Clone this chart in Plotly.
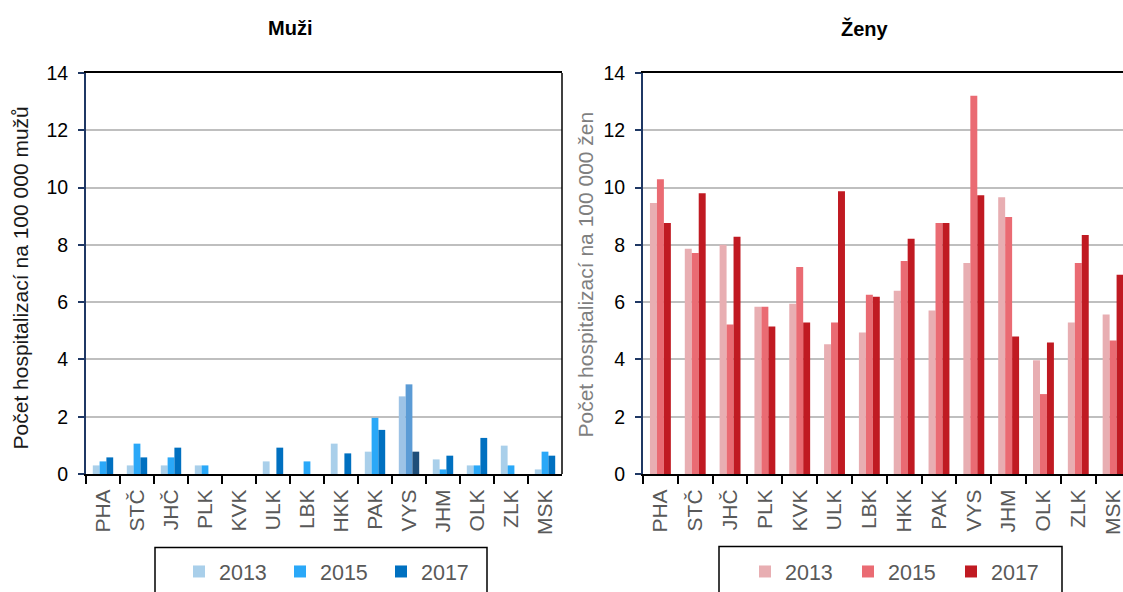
import plotly.graph_objects as go

regions = ["PHA", "STČ", "JHČ", "PLK", "KVK", "ULK", "LBK", "HKK", "PAK", "VYS", "JHM", "OLK", "ZLK", "MSK"]
years = ["2013", "2015", "2017"]

men_2013 = [0.30, 0.30, 0.30, 0.30, 0, 0.44, 0, 1.06, 0.78, 2.71, 0.51, 0.30, 0.99, 0.16]
men_2015 = [0.44, 1.06, 0.58, 0.30, 0, 0, 0.44, 0, 1.96, 3.13, 0.16, 0.30, 0.30, 0.78]
men_2017 = [0.58, 0.58, 0.92, 0, 0, 0.92, 0, 0.72, 1.54, 0.78, 0.64, 1.26, 0, 0.64]

women_2013 = [9.46, 7.86, 8.00, 5.84, 5.94, 4.53, 4.94, 6.40, 5.71, 7.37, 9.66, 3.97, 5.29, 5.57]
women_2015 = [10.29, 7.72, 5.22, 5.84, 7.23, 5.29, 6.26, 7.44, 8.76, 13.21, 8.97, 2.79, 7.37, 4.66]
women_2017 = [8.76, 9.80, 8.28, 5.15, 5.29, 9.87, 6.19, 8.21, 8.76, 9.73, 4.80, 4.59, 8.34, 6.96]

men_colors = ["#A9CFEA", "#2AA8F8", "#0070C0"]
men_vys_colors = ["#9DC3E6", "#5B9BD5", "#1F4E79"]
women_colors = ["#E8AEB2", "#EA6B73", "#C01A22"]

W, H = 1123, 592
T, B = 73, 115
plot_h = H - T - B

def px(x):
    return x / W

def py(y):
    return (H - B - y) / plot_h

FONT = "Arial, Liberation Sans, sans-serif"

fig = go.Figure()

men_series = [men_2013, men_2015, men_2017]
for i, (yr, vals) in enumerate(zip(years, men_series)):
    cols = [men_vys_colors[i] if r == "VYS" else men_colors[i] for r in regions]
    fig.add_trace(go.Bar(x=regions, y=vals, name=yr, marker=dict(color=cols, line=dict(width=0)),
                         xaxis="x", yaxis="y", legend="legend", showlegend=True))

women_series = [women_2013, women_2015, women_2017]
for i, (yr, vals) in enumerate(zip(years, women_series)):
    fig.add_trace(go.Bar(x=regions, y=vals, name=yr, marker=dict(color=women_colors[i], line=dict(width=0)),
                         xaxis="x2", yaxis="y2", legend="legend2", showlegend=True))

left_dom = [px(86), px(562)]
right_dom = [px(643), 1.0]
cat_w_right = (1095.7 - 643) / 13
right_end = -0.5 + (W - 643) / cat_w_right

xcommon = dict(type="category", tickson="boundaries", ticks="outside", ticklen=8, tickwidth=1.5,
               tickcolor="black", showline=True, linecolor="black", linewidth=2, mirror=True,
               tickangle=-90, tickfont=dict(family=FONT, size=21, color="#595959"),
               ticklabelstandoff=5,
               showgrid=False, categoryorder="array", categoryarray=regions)
ycommon = dict(range=[0, 14], dtick=2, showgrid=True, gridcolor="#BFBFBF", gridwidth=1.5,
               showline=True, linecolor="#1F3864", linewidth=2, ticks="outside", ticklen=6,
               tickcolor="#1F3864", tickwidth=1.5, zeroline=False, ticklabelstandoff=6,
               tickfont=dict(family=FONT, size=19.5, color="black"))

legend_common = dict(orientation="h", xanchor="left", yanchor="top",
                     font=dict(family=FONT, size=21.5, color="#595959"), bgcolor="rgba(0,0,0,0)",
                     borderwidth=0, entrywidthmode="pixels", traceorder="normal")

fig.update_layout(
    width=W, height=H,
    margin=dict(l=0, r=0, t=T, b=B),
    plot_bgcolor="white", paper_bgcolor="white",
    barmode="group", bargap=0.4, bargroupgap=0,
    font=dict(family=FONT),
    xaxis=dict(domain=left_dom, anchor="y", range=[-0.5, 13.5], **xcommon),
    yaxis=dict(domain=[0, 1], anchor="x", **ycommon),
    xaxis2=dict(domain=right_dom, anchor="y2", range=[-0.5, right_end], **xcommon),
    yaxis2=dict(domain=[0, 1], anchor="x2", **ycommon),
    legend=dict(x=px(179), y=py(555), entrywidth=56, **legend_common),
    legend2=dict(x=px(745), y=py(555), entrywidth=58, **legend_common),
    showlegend=True,
)

shapes = [
    dict(type="line", xref="x domain", yref="y domain", x0=1, x1=1, y0=0, y1=1,
         line=dict(color="black", width=1.5)),
    dict(type="rect", xref="paper", yref="paper", x0=px(155), x1=px(487), y0=py(551), y1=py(620),
         line=dict(color="black", width=1.5), fillcolor="rgba(0,0,0,0)"),
    dict(type="rect", xref="paper", yref="paper", x0=px(719), x1=px(1062), y0=py(550), y1=py(620),
         line=dict(color="black", width=1.5), fillcolor="rgba(0,0,0,0)"),
]
fig.update_layout(shapes=shapes)

annotations = [
    dict(text="<b>Muži</b>", x=px(290), y=py(28), xref="paper", yref="paper", showarrow=False,
         font=dict(family=FONT, size=20, color="black"), xanchor="center", yanchor="middle"),
    dict(text="<b>Ženy</b>", x=px(865), y=py(28), xref="paper", yref="paper", showarrow=False,
         font=dict(family=FONT, size=20, color="black"), xanchor="center", yanchor="middle"),
    dict(text="Počet hospitalizací na 100 000 mužů", x=px(20), y=py(280), xref="paper", yref="paper",
         showarrow=False, textangle=-90, font=dict(family=FONT, size=21, color="#1A1A1A"),
         xanchor="center", yanchor="middle"),
    dict(text="Počet hospitalizací na 100 000 žen", x=px(585), y=py(276), xref="paper", yref="paper",
         showarrow=False, textangle=-90, font=dict(family=FONT, size=21, color="#7F7F7F"),
         xanchor="center", yanchor="middle"),
]
fig.update_layout(annotations=annotations)

fig.write_html("out.html", config={"displayModeBar": False},
               post_script="document.body.style.margin='0px';document.body.style.overflow='hidden';")
